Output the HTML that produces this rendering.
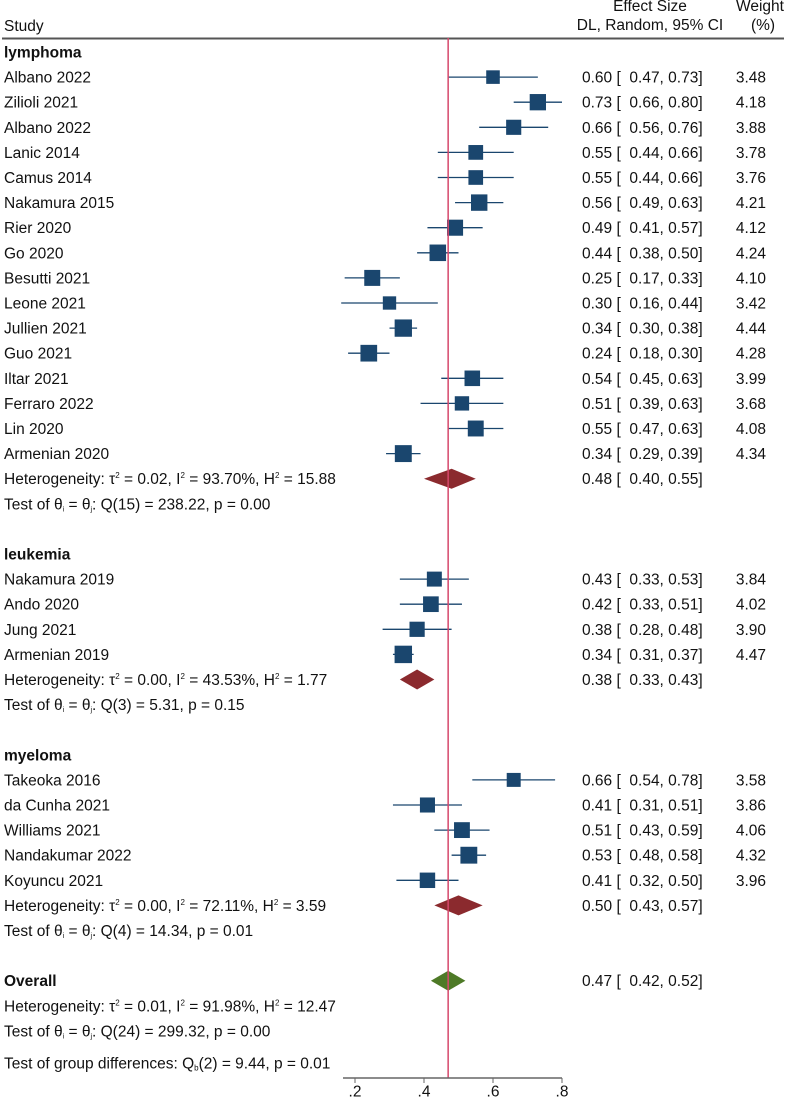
<!DOCTYPE html>
<html><head><meta charset="utf-8"><style>
html,body{margin:0;padding:0;background:#fff;}
svg{display:block;font-family:"Liberation Sans",Arial,sans-serif;font-size:15.5px;fill:#111;}
</style></head><body>
<svg id="plot" width="787" height="1102" viewBox="0 0 787 1102">
<text x="4" y="31">Study</text>
<text x="650" y="11" text-anchor="middle">Effect Size</text>
<text x="650" y="30" text-anchor="middle">DL, Random, 95% CI</text>
<text x="760" y="11" text-anchor="middle">Weight</text>
<text x="763" y="30" text-anchor="middle">(%)</text>
<line x1="2" y1="38.5" x2="784" y2="38.5" stroke="#555" stroke-width="2"/>
<g id="marks"></g>
</svg>
<script>
const studyNames=["Albano 2022","Zilioli 2021","Albano 2022","Lanic 2014","Camus 2014","Nakamura 2015","Rier 2020","Go 2020","Besutti 2021","Leone 2021","Jullien 2021","Guo 2021","Iltar 2021","Ferraro 2022","Lin 2020","Armenian 2020","Nakamura 2019","Ando 2020","Jung 2021","Armenian 2019","Takeoka 2016","da Cunha 2021","Williams 2021","Nandakumar 2022","Koyuncu 2021"];
const studyEst=[0.60,0.73,0.66,0.55,0.55,0.56,0.49,0.44,0.25,0.30,0.34,0.24,0.54,0.51,0.55,0.34,0.43,0.42,0.38,0.34,0.66,0.41,0.51,0.53,0.41];
const studyLo=[0.47,0.66,0.56,0.44,0.44,0.49,0.41,0.38,0.17,0.16,0.30,0.18,0.45,0.39,0.47,0.29,0.33,0.33,0.28,0.31,0.54,0.31,0.43,0.48,0.32];
const studyHi=[0.73,0.80,0.76,0.66,0.66,0.63,0.57,0.50,0.33,0.44,0.38,0.30,0.63,0.63,0.63,0.39,0.53,0.51,0.48,0.37,0.78,0.51,0.59,0.58,0.50];
const studyWeight=[3.48,4.18,3.88,3.78,3.76,4.21,4.12,4.24,4.10,3.42,4.44,4.28,3.99,3.68,4.08,4.34,3.84,4.02,3.90,4.47,3.58,3.86,4.06,4.32,3.96];
const groupNames=["lymphoma","leukemia","myeloma"];
const groupSizes=[16,4,5];
const groupEst=[0.48,0.38,0.50];
const groupLo=[0.40,0.33,0.43];
const groupHi=[0.55,0.43,0.57];
const groupHet=["Heterogeneity: τ<tspan dy='-6' font-size='8'>2</tspan><tspan dy='6'> = 0.02, I</tspan><tspan dy='-6' font-size='8'>2</tspan><tspan dy='6'> = 93.70%, H</tspan><tspan dy='-6' font-size='8'>2</tspan><tspan dy='6'> = 15.88</tspan>",
"Heterogeneity: τ<tspan dy='-6' font-size='8'>2</tspan><tspan dy='6'> = 0.00, I</tspan><tspan dy='-6' font-size='8'>2</tspan><tspan dy='6'> = 43.53%, H</tspan><tspan dy='-6' font-size='8'>2</tspan><tspan dy='6'> = 1.77</tspan>",
"Heterogeneity: τ<tspan dy='-6' font-size='8'>2</tspan><tspan dy='6'> = 0.00, I</tspan><tspan dy='-6' font-size='8'>2</tspan><tspan dy='6'> = 72.11%, H</tspan><tspan dy='-6' font-size='8'>2</tspan><tspan dy='6'> = 3.59</tspan>"];
const groupTest=["Q(15) = 238.22, p = 0.00","Q(3) = 5.31, p = 0.15","Q(4) = 14.34, p = 0.01"];
const overallEst=0.47, overallLo=0.42, overallHi=0.52;
const tickValues=[0.2,0.4,0.6,0.8];
const tickLabels=[".2",".4",".6",".8"];

const NS="http://www.w3.org/2000/svg";
const g=document.getElementById('marks');
function xs(v){return 355+(v-0.2)*345;}
function ys(i){return 52+i*25.1;}
function mk(tag,attrs,parent){const e=document.createElementNS(NS,tag);for(const k in attrs)e.setAttribute(k,attrs[k]);(parent||g).appendChild(e);return e;}
function txt(x,y,s,name,anchor,bold){const t=mk('text',{x:x,y:y+5.5,'text-anchor':anchor||'start'});if(bold)t.setAttribute('font-weight','bold');t.innerHTML=s;


return t;}
function f(v){return v.toFixed(2);}
function ciText(y,e,l,h,name){txt(582,y,f(e)+" [&#160;&#160;"+f(l)+",&#160;"+f(h)+"]",name);}
function diamond(y,e,l,h,color,name){const p=mk('polygon',{points:`${xs(l)},${y} ${xs(e)},${y-10} ${xs(h)},${y} ${xs(e)},${y+10}`,fill:color});

}

let row=0,si=0;
for(let gi=0;gi<groupNames.length;gi++){
  txt(4,ys(row),groupNames[gi],'group-label-'+groupNames[gi],'start',true);row++;
  for(let k=0;k<groupSizes[gi];k++,si++,row++){
    const y=ys(row);
    txt(4,y,studyNames[si],'study-label');
    const ln=mk('line',{x1:xs(studyLo[si]),x2:xs(studyHi[si]),y1:y,y2:y,stroke:'#1a466e','stroke-width':1.3});
    
    
    const s=studyWeight[si]*3.9;
    const r=mk('rect',{x:xs(studyEst[si])-s/2,y:y-s/2,width:s,height:s,fill:'#1a466e'});
    
    
    ciText(y,studyEst[si],studyLo[si],studyHi[si],'study-ci-text');
    txt(766,y,f(studyWeight[si]),'study-weight','end');
  }
  let y=ys(row);
  txt(4,y,groupHet[gi],'group-heterogeneity');
  diamond(y,groupEst[gi],groupLo[gi],groupHi[gi],'#8b2a2e','group-diamond');
  ciText(y,groupEst[gi],groupLo[gi],groupHi[gi],'group-ci-text');
  row++;
  txt(4,ys(row),"Test of θ<tspan font-size='7' dy='2'>i</tspan><tspan dy='-2'> = θ</tspan><tspan font-size='7' dy='2'>j</tspan><tspan dy='-2'>: "+groupTest[gi]+"</tspan>",'group-test');
  row+=2;
}
let y=ys(row);
txt(4,y,"Overall",'overall-label','start',true);
diamond(y,overallEst,overallLo,overallHi,'#4e7a27','overall-diamond');
ciText(y,overallEst,overallLo,overallHi,'overall-ci-text');
row++;
txt(4,ys(row),"Heterogeneity: τ<tspan dy='-6' font-size='8'>2</tspan><tspan dy='6'> = 0.01, I</tspan><tspan dy='-6' font-size='8'>2</tspan><tspan dy='6'> = 91.98%, H</tspan><tspan dy='-6' font-size='8'>2</tspan><tspan dy='6'> = 12.47</tspan>",'overall-heterogeneity');
row++;
txt(4,ys(row),"Test of θ<tspan font-size='7' dy='2'>i</tspan><tspan dy='-2'> = θ</tspan><tspan font-size='7' dy='2'>j</tspan><tspan dy='-2'>: Q(24) = 299.32, p = 0.00</tspan>",'overall-test');
txt(4,1063,"Test of group differences: Q<tspan font-size='8' dy='2'>b</tspan><tspan dy='-2'>(2) = 9.44, p = 0.01</tspan>",'group-differences-test');

const ref=mk('line',{x1:xs(overallEst),x2:xs(overallEst),y1:38,y2:1078,stroke:'#d6486b','stroke-width':1.5});


const ax=mk('line',{x1:343,x2:562,y1:1078,y2:1078,stroke:'#666','stroke-width':1.5});


tickValues.forEach((v,i)=>{
  const t=mk('line',{x1:xs(v),x2:xs(v),y1:1078,y2:1083,stroke:'#666'});
  
  
  txt(xs(v),1091,tickLabels[i],'x-tick-label','middle');
});
</script>
</body></html>
